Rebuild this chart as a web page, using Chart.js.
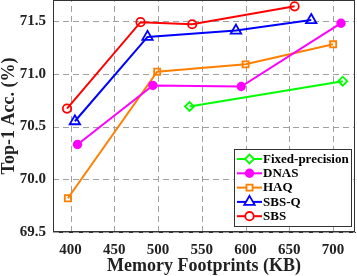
<!DOCTYPE html>
<html><head><meta charset="utf-8">
<script src="https://cdn.jsdelivr.net/npm/chart.js@4/dist/chart.umd.min.js"></script>
<style>html,body{margin:0;padding:0;background:#fff}#w{width:357px;height:276px}</style>
</head><body><div id="w"><canvas id="c" width="357" height="276"></canvas></div>
<script>
const xTicks = [400, 450, 500, 550, 600, 650, 700];
const yTicks = [69.5, 70.0, 70.5, 71.0, 71.5];

const fixedX = [536, 711];
const fixedY = [70.69, 70.93];
const dnasX = [408, 494, 595, 709];
const dnasY = [70.33, 70.89, 70.88, 71.48];
const haqX = [397, 499, 600, 700];
const haqY = [69.82, 71.02, 71.09, 71.28];
const sbsqX = [405, 488, 589, 675];
const sbsqY = [70.55, 71.35, 71.41, 71.51];
const sbsX = [396, 480, 539, 656];
const sbsY = [70.67, 71.49, 71.47, 71.64];

const labels = ['Fixed-precision', 'DNAS', 'HAQ', 'SBS-Q', 'SBS'];

function pts(xs, ys){ return xs.map((x,i)=>({x:x, y:ys[i]})); }

const serif = '"Liberation Serif", "Times New Roman", serif';

function ds(label, xs, ys, color, style, r, filled){
  return {label, data: pts(xs, ys), borderColor: color, backgroundColor: filled ? color : '#ffffff',
    pointStyle: style, pointRadius: r, pointHoverRadius: r, pointBorderWidth: 1.8,
    pointBorderColor: color, pointBackgroundColor: filled ? color : 'rgba(255,255,255,0)',
    borderWidth: 2, tension: 0, fill: false};
}

const datasets = [
  ds(labels[0], fixedX, fixedY, '#00ff00', 'rectRot', 4.5, false),
  ds(labels[1], dnasX, dnasY, '#ff00ff', 'circle', 3.8, true),
  ds(labels[2], haqX, haqY, '#ff8000', 'rect', 4.3, false),
  ds(labels[3], sbsqX, sbsqY, '#0000ff', 'triangle', 6, false),
  ds(labels[4], sbsX, sbsY, '#ff0000', 'circle', 4.2, false)
];

const gridPlugin = {
  id: 'dashGrid',
  beforeDatasetsDraw(chart){
    const ctx = chart.ctx, a = chart.chartArea, sx = chart.scales.x, sy = chart.scales.y;
    ctx.save();
    ctx.strokeStyle = '#a0a0a0';
    ctx.lineWidth = 1;
    ctx.setLineDash([6, 4]);
    xTicks.forEach(v => {
      const px = Math.round(sx.getPixelForValue(v)) + 0.5;
      ctx.beginPath(); ctx.moveTo(px, a.bottom); ctx.lineTo(px, a.top); ctx.stroke();
    });
    yTicks.forEach(v => {
      const py = Math.round(sy.getPixelForValue(v)) + 0.5;
      ctx.beginPath(); ctx.moveTo(a.left, py); ctx.lineTo(a.right, py); ctx.stroke();
    });
    ctx.restore();
  }
};

const frameLegend = {
  id: 'frameLegend',
  afterDatasetsDraw(chart){
    const ctx = chart.ctx, a = chart.chartArea;
    ctx.save();
    ctx.strokeStyle = '#333';
    ctx.lineWidth = 1;
    ctx.setLineDash([]);
    ctx.strokeRect(Math.round(a.left) + 0.5, Math.round(a.top) + 0.5, Math.round(a.right - a.left) - 1, Math.round(a.bottom - a.top) - 1);
    // legend box
    const bx = 234.5, by = 149.5, bw = 117, bh = 77;
    ctx.fillStyle = '#fff';
    ctx.fillRect(bx, by, bw, bh);
    ctx.strokeStyle = '#333';
    ctx.strokeRect(bx, by, bw, bh);
    ctx.font = 'bold 13px ' + serif;
    ctx.textBaseline = 'middle';
    ctx.textAlign = 'left';
    chart.data.datasets.forEach((d, i) => {
      const cy = 159 + i * 14.3;
      ctx.strokeStyle = d.borderColor;
      ctx.lineWidth = 2;
      ctx.beginPath(); ctx.moveTo(237, cy); ctx.lineTo(262, cy); ctx.stroke();
      ctx.lineWidth = d.pointBorderWidth;
      ctx.fillStyle = d.pointBackgroundColor === 'rgba(255,255,255,0)' ? '#fff' : d.pointBackgroundColor;
      Chart.helpers.drawPoint(ctx, {pointStyle: d.pointStyle, radius: d.pointRadius, borderWidth: d.pointBorderWidth, rotation: 0}, 249.5, cy);
      ctx.fillStyle = '#000';
      ctx.fillText(d.label, 263, cy + 0.5);
    });
    ctx.restore();
  }
};

new Chart(document.getElementById('c'), {
  type: 'line',
  data: {datasets},
  plugins: [gridPlugin, frameLegend],
  options: {
    responsive: false, animation: false, maintainAspectRatio: false,
    layout: {autoPadding: false, padding: {top: 0, right: 2, left: 0, bottom: 0}},
    plugins: {legend: {display: false}, tooltip: {enabled: false}},
    scales: {
      x: {
        type: 'linear', min: 380, max: 725,
        afterBuildTicks: s => { s.ticks = xTicks.map(v => ({value: v})); },
        afterFit: s => { s.height = 44; s.paddingLeft = 0; s.paddingRight = 0; s.paddingTop = 0; s.paddingBottom = 0; },
        grid: {display: false, drawTicks: false},
        border: {display: true, color: '#333', width: 1},
        ticks: {color: '#222', padding: 9, font: {family: serif, size: 15, weight: 'bold'}, maxRotation: 0},
        title: {display: true, text: 'Memory Footprints (KB)', color: '#222', padding: {top: 0, bottom: 0},
          font: {family: serif, size: 18, weight: 'bold', lineHeight: 1.1}}
      },
      y: {
        type: 'linear', min: 69.5, max: 71.7,
        afterBuildTicks: s => { s.ticks = yTicks.map(v => ({value: v})); },
        afterFit: s => { s.width = 53; s.paddingTop = 0; s.paddingBottom = 0; s.paddingLeft = 0; s.paddingRight = 0; },
        grid: {display: false, drawTicks: false},
        border: {display: true, color: '#333', width: 1},
        ticks: {color: '#222', padding: 7, font: {family: serif, size: 15, weight: 'bold'},
          callback: v => v.toFixed(1)},
        title: {display: true, text: 'Top-1 Acc. (%)', color: '#222', padding: {top: 0, bottom: 0},
          font: {family: serif, size: 18, weight: 'bold', lineHeight: 1}}
      }
    }
  }
});
</script></body></html>
